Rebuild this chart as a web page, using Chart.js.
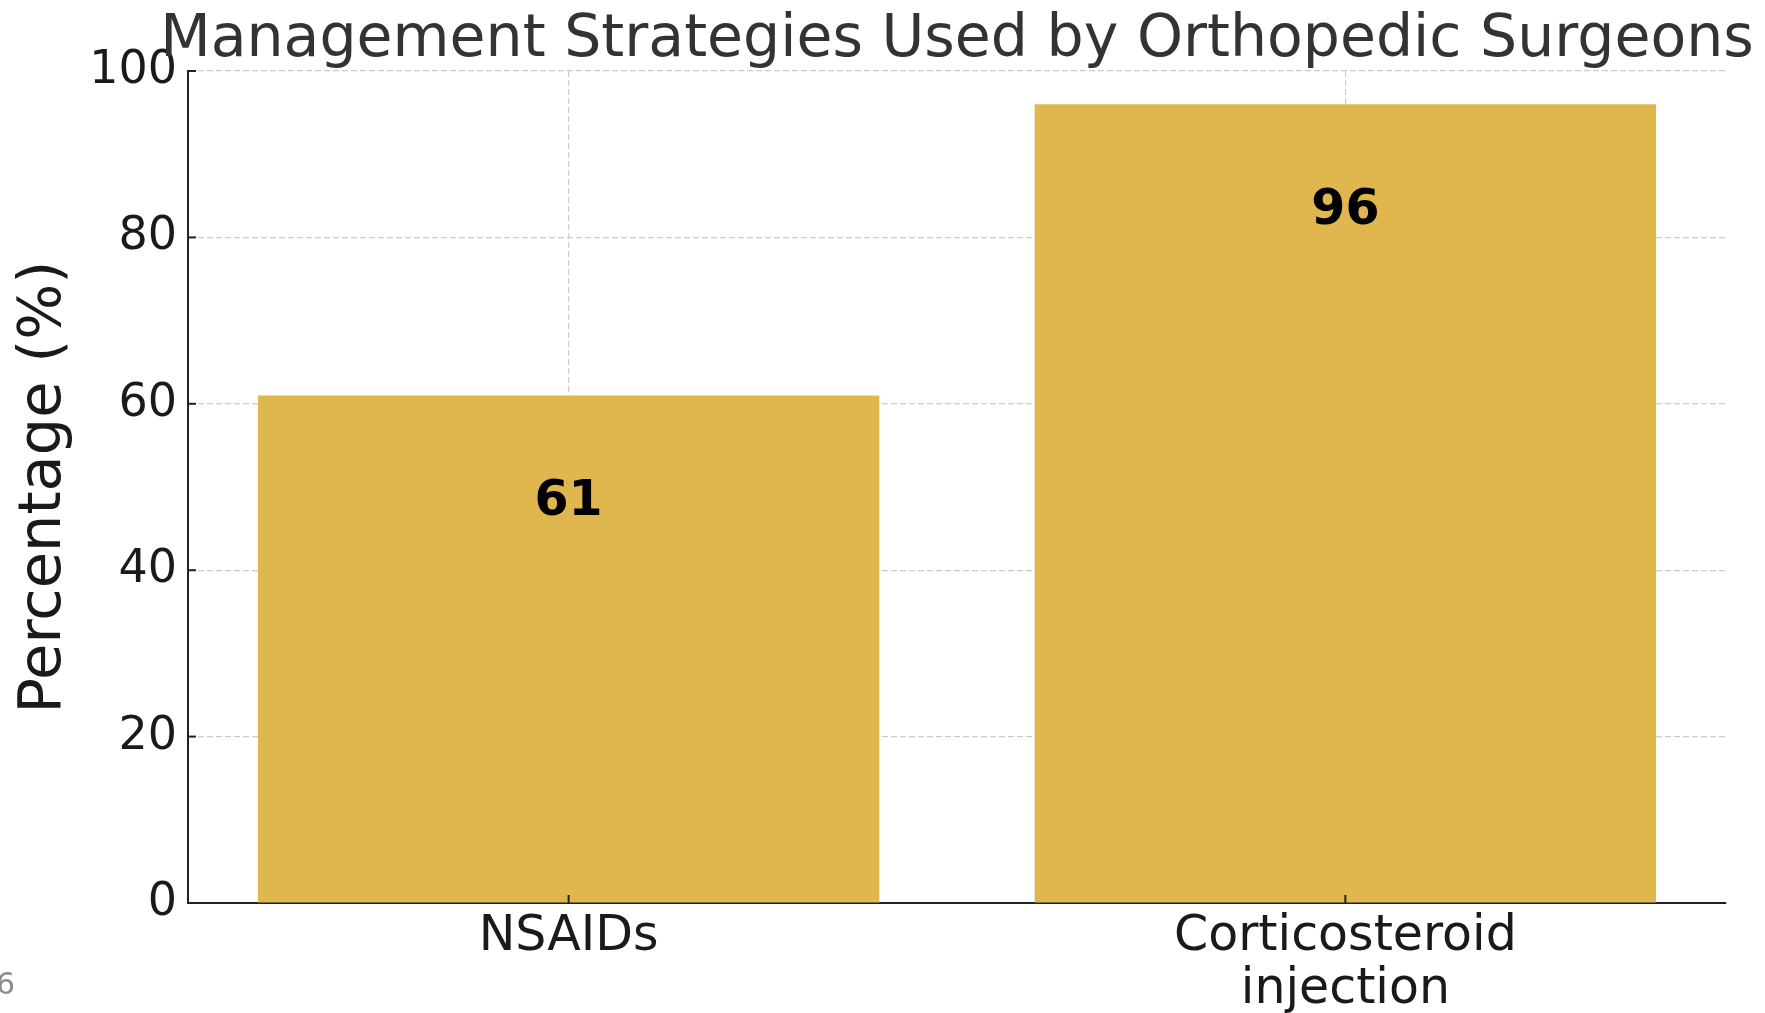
<!DOCTYPE html>
<html>
<head>
<meta charset="utf-8">
<script src="https://cdn.jsdelivr.net/npm/chart.js@4/dist/chart.umd.min.js"></script>
<style>
html,body{margin:0;padding:0;background:#fff;}
#wrap{width:1765px;height:1013px;}
</style>
</head>
<body>
<div id="wrap"><canvas id="c" width="1765" height="1013"></canvas></div>
<script>
const categories = ['NSAIDs', ['Corticosteroid', 'injection']];
const values = [61, 96];
const yTicks = [0, 20, 40, 60, 80, 100];
const titleText = 'Management Strategies Used by Orthopedic Surgeons';
const yTitle = 'Percentage (%)';
const cornerText = '6';

const FONT = "'DejaVu Sans', sans-serif";

const extras = {
  id: 'extras',
  afterDraw(chart) {
    const ctx = chart.ctx;
    const ca = chart.chartArea;
    const xs = chart.scales.x, ys = chart.scales.y;
    ctx.save();
    // inward tick marks
    ctx.strokeStyle = '#222';
    ctx.lineWidth = 2;
    yTicks.forEach(v => {
      const y = ys.getPixelForValue(v);
      ctx.beginPath(); ctx.moveTo(ca.left, y); ctx.lineTo(ca.left + 8, y); ctx.stroke();
    });
    values.forEach((v, i) => {
      const x = xs.getPixelForValue(i);
      ctx.beginPath(); ctx.moveTo(x, ca.bottom); ctx.lineTo(x, ca.bottom - 8); ctx.stroke();
    });
    // value labels
    ctx.fillStyle = '#000';
    ctx.font = "bold 49px " + FONT;
    ctx.textAlign = 'center';
    ctx.textBaseline = 'middle';
    const meta = chart.getDatasetMeta(0);
    meta.data.forEach((bar, i) => {
      ctx.fillText(String(values[i]), bar.x, bar.y + 107);
    });
    // title
    ctx.fillStyle = '#333';
    ctx.font = "58.5px " + FONT;
    ctx.textBaseline = 'alphabetic';
    ctx.fillText(titleText, (ca.left + ca.right) / 2, 56);
    // corner text
    ctx.fillStyle = '#8c8c8c';
    ctx.font = "30px " + FONT;
    ctx.textAlign = 'left';
    ctx.textBaseline = 'middle';
    ctx.fillText(cornerText, -4, 986);
    ctx.restore();
  }
};

new Chart(document.getElementById('c'), {
  type: 'bar',
  data: {
    datasets: [{
      data: values.map((v, i) => ({ x: i, y: v })),
      backgroundColor: '#E0B64E',
      borderWidth: 0,
      barPercentage: 0.8,
      categoryPercentage: 1.0
    }]
  },
  options: {
    responsive: false,
    animation: false,
    events: [],
    layout: { padding: { top: 71, right: 39, bottom: 0, left: 0 } },
    plugins: { legend: { display: false }, title: { display: false }, tooltip: { enabled: false } },
    scales: {
      x: {
        type: 'linear',
        min: -0.49,
        max: 1.49,
        offset: false,
        z: 1,
        afterFit(s) { s.height = 110; },
        afterBuildTicks(s) { s.ticks = values.map((v, i) => ({ value: i })); },
        ticks: {
          autoSkip: false,
          maxRotation: 0,
          padding: 8,
          color: '#1a1a1a',
          font: { family: FONT, size: 49, lineHeight: 1.08 },
          callback: (v) => categories[v]
        },
        grid: { offset: false, color: '#cccccc', lineWidth: 1.2, drawTicks: false },
        border: { display: true, color: '#222', width: 2, dash: [6, 3] }
      },
      y: {
        min: 0,
        max: 100,
        z: 1,
        afterFit(s) { s.width = 188; },
        afterBuildTicks(s) { s.ticks = yTicks.map(v => ({ value: v })); },
        ticks: {
          padding: 11,
          color: '#1a1a1a',
          font: { family: FONT, size: 46 }
        },
        grid: { color: '#cccccc', lineWidth: 1.2, drawTicks: false },
        border: { display: true, color: '#222', width: 2, dash: [6, 3] },
        title: {
          display: true,
          text: yTitle,
          color: '#1a1a1a',
          font: { family: FONT, size: 59, lineHeight: 1.2 },
          padding: { top: 9, bottom: 0 }
        }
      }
    }
  },
  plugins: [extras]
});
</script>
</body>
</html>
